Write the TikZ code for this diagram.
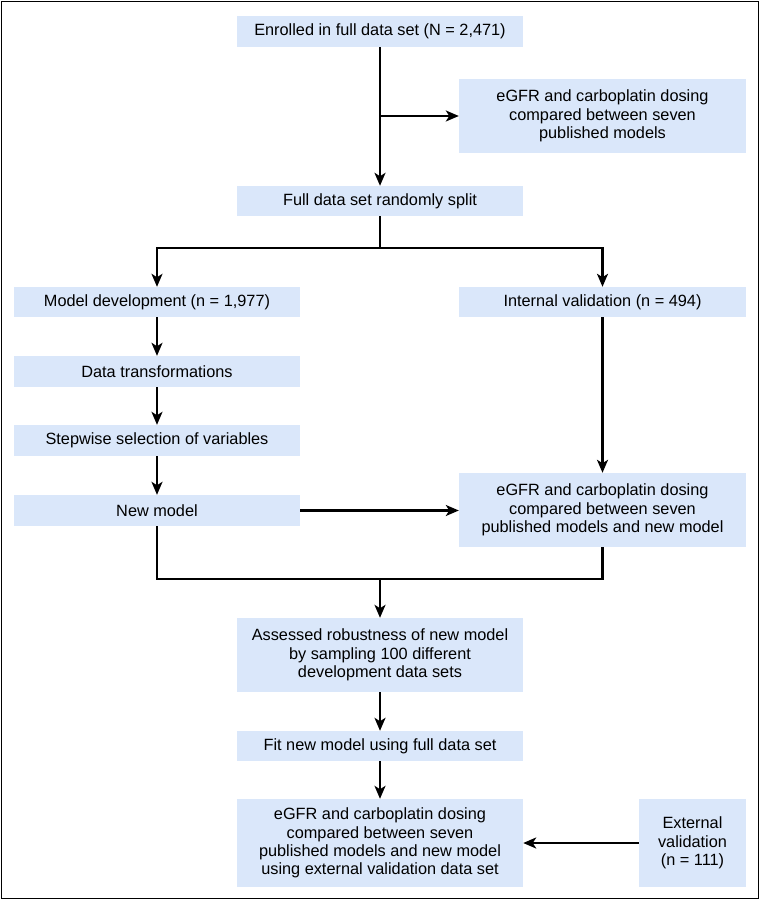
\documentclass[tikz,border=0pt]{standalone}
\usepackage{fontspec}
\setmainfont{Liberation Sans}
\usetikzlibrary{arrows.meta}
\definecolor{boxblue}{RGB}{218,231,250}
\begin{document}
\begin{tikzpicture}[x=1pt,y=-1pt,
  box/.style={fill=boxblue, draw=none, inner sep=0pt, align=center,
    font=\fontsize{16.3}{18.4}\selectfont, anchor=center},
  wbox/.style={box, minimum width=286pt},
  conn/.style={line width=2.3pt, -{Stealth[length=13pt,width=11pt,inset=3.5pt]}},
  plainline/.style={line width=2.3pt}]
\useasboundingbox (0,0) rectangle (762,901);
\draw[line width=1.5pt] (1.5,1.5) rectangle (758.5,898.5);

\node[wbox, minimum height=31pt] (enr) at (380,31.5) {Enrolled in full data set (N = 2,471)};
\node[wbox, minimum width=287pt, minimum height=74pt] (pub1) at (602.5,116) {eGFR and carboplatin dosing\\compared between seven\\published models};
\node[wbox, minimum height=30pt] (split) at (380,201) {Full data set randomly split};
\node[wbox, minimum height=30pt] (dev) at (157,302) {Model development (n = 1,977)};
\node[wbox, minimum width=287pt, minimum height=30pt] (int) at (602.5,302) {Internal validation (n = 494)};
\node[wbox, minimum height=31pt] (trans) at (157,371.5) {Data transformations};
\node[wbox, minimum height=31pt] (step) at (157,440.5) {Stepwise selection of variables};
\node[wbox, minimum height=31pt] (new) at (157,510.5) {New model};
\node[wbox, minimum width=287pt, minimum height=74pt] (pub2) at (602.5,510) {eGFR and carboplatin dosing\\compared between seven\\published models and new model};
\node[wbox, minimum height=74pt] (ass) at (380,655) {Assessed robustness of new model\\by sampling 100 different\\development data sets};
\node[wbox, minimum height=30pt] (fit) at (380,746) {Fit new model using full data set};
\node[wbox, minimum height=88pt] (fin) at (380,843) {eGFR and carboplatin dosing\\compared between seven\\published models and new model\\using external validation data set};
\node[box, minimum width=107pt, minimum height=88pt] (ext) at (692.5,843) {External\\validation\\(n = 111)};

\coordinate (br) at (380,248);
\coordinate (jn) at (380,579);

\draw[conn] (enr.south) -- (split.north);
\draw[conn] (enr.south |- pub1.west) -- (pub1.west);
\draw[plainline] (split.south) -- (br);
\draw[conn] (br) -| (dev.north);
\draw[conn] (br) -| (int.north);
\draw[conn] (dev.south) -- (trans.north);
\draw[conn] (trans.south) -- (step.north);
\draw[conn] (step.south) -- (new.north);
\draw[conn] (new.east) -- (pub2.west |- new.east);
\draw[conn] (int.south) -- (pub2.north);
\draw[plainline] (new.south) |- (pub2.south |- jn) -- (pub2.south);
\draw[conn] (jn) -- (ass.north);
\draw[conn] (ass.south) -- (fit.north);
\draw[conn] (fit.south) -- (fin.north);
\draw[conn] (ext.west) -- (fin.east);
\end{tikzpicture}
\end{document}
